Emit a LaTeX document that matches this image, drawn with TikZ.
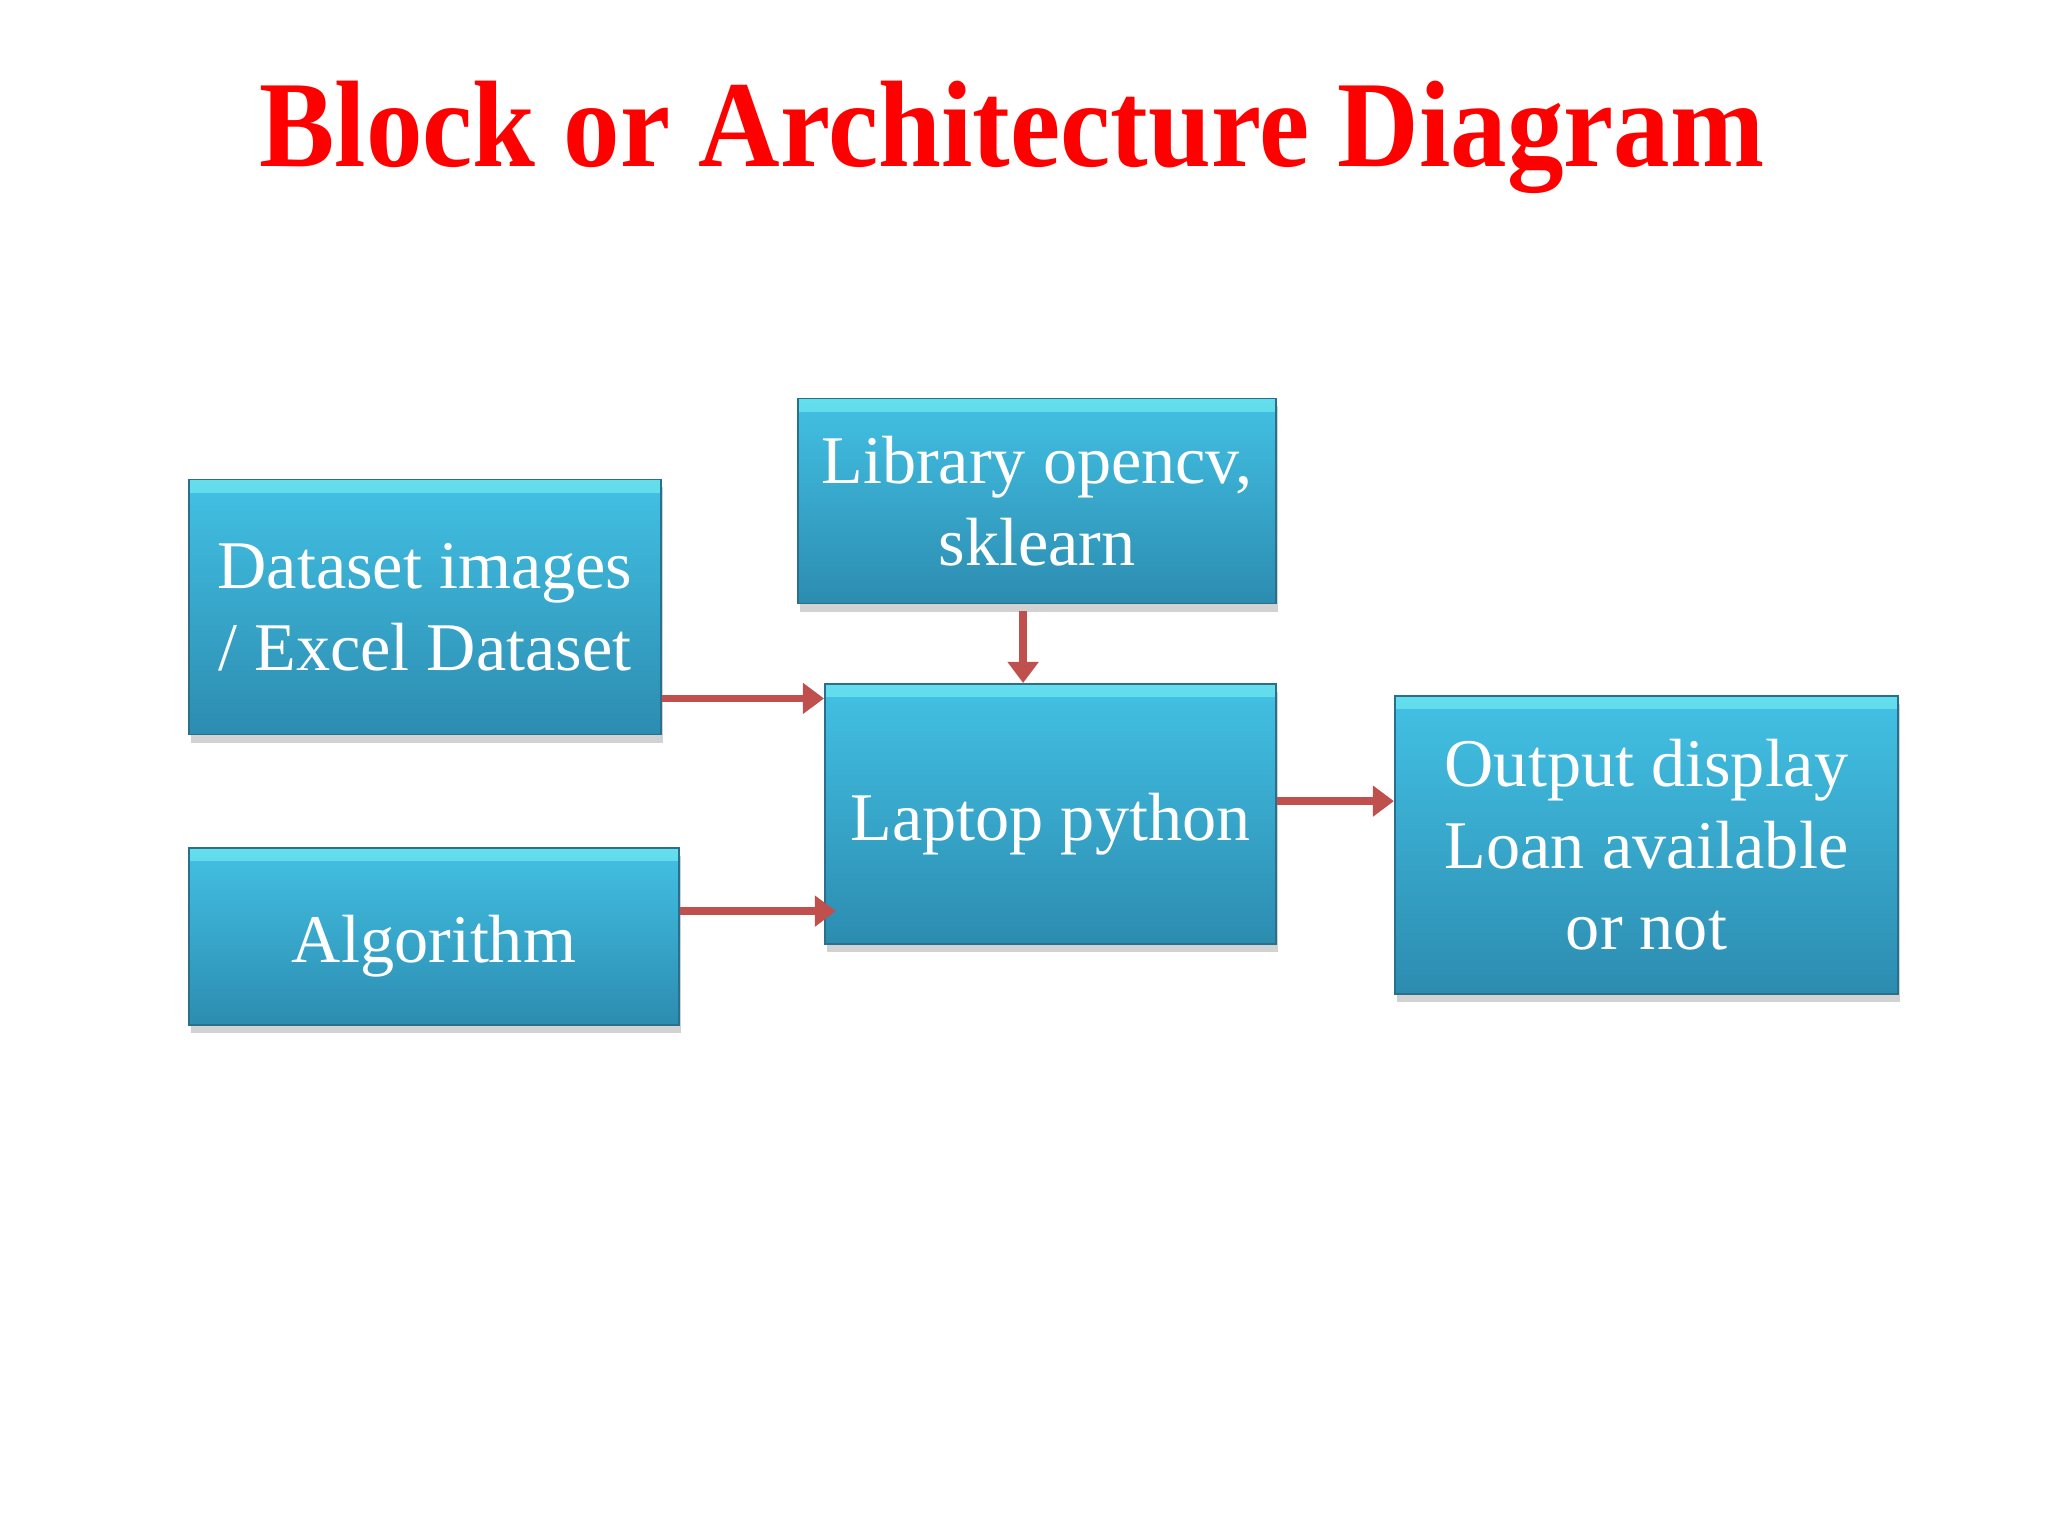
\documentclass[tikz,border=0pt]{standalone}
\usepackage{fontspec}
\setmainfont{Liberation Serif}
\usetikzlibrary{arrows.meta,shadows}
\definecolor{boxtop}{RGB}{66,193,228}
\definecolor{boxbot}{RGB}{44,140,176}
\definecolor{boxedge}{RGB}{40,112,140}
\definecolor{bevel}{RGB}{100,222,236}
\definecolor{arrowred}{RGB}{192,80,77}
\definecolor{titlered}{RGB}{255,0,0}

\tikzset{
  block/.style={rectangle, draw=boxedge, line width=0.5pt,
    top color=boxtop, bottom color=boxbot, text=white,
    font=\fontsize{19.4}{23.2}\selectfont, align=center, inner sep=0pt,
    path picture={\fill[top color=bevel, bottom color=boxtop]
      (path picture bounding box.north west) rectangle ([yshift=-0.13cm]path picture bounding box.north east);},
    drop shadow={shadow xshift=0.2mm, shadow yshift=-0.8mm, opacity=0.25, fill=black!70}},
  oneline/.style={text height=19pt},
  link/.style={draw=arrowred, line width=2.2pt, -{Triangle[length=6pt,width=8.5pt]}},
}

\begin{document}
\begin{tikzpicture}[x=0.01cm, y=-0.01cm]
	\useasboundingbox (0,0) rectangle (2048,1536);
	\fill[white] (0,0) rectangle (2048,1536);
	
	% Title
	\node[anchor=base, text=titlered, font=\fontsize{35}{40}\selectfont\bfseries]
		(title) at (1012,166) {\scalebox{0.918}[1]{Block or Architecture Diagram}};
	
	% Blocks
	\node[block, minimum width=4.72cm, minimum height=2.55cm] (dataset) at (425,607)
		{Dataset images\\/ Excel Dataset};
	\node[block, minimum width=4.78cm, minimum height=2.05cm] (library) at (1037,501)
		{Library opencv,\\sklearn};
	\node[block, oneline, minimum width=4.51cm, minimum height=2.60cm] (laptop) at (1050.5,814)
		{Laptop python};
	\node[block, oneline, minimum width=4.90cm, minimum height=1.77cm] (algorithm) at (434,936.5)
		{Algorithm};
	\node[block, minimum width=5.03cm, minimum height=2.98cm] (output) at (1646.5,845)
		{Output display\\Loan available\\or not};
	
	% Arrows
	\coordinate (d1) at ([yshift=0.37cm]dataset.south east);
	\draw[link] (d1) -- (d1 -| laptop.west);
	\coordinate (a1) at ([yshift=-0.64cm]algorithm.north east);
	\draw[link] (a1) -- ([xshift=0.12cm]a1 -| laptop.west);
	\coordinate (l1) at ([xshift=2.26cm, yshift=-0.07cm]library.south west);
	\draw[link] (l1) -- (l1 |- laptop.north);
	\coordinate (p1) at ([yshift=-1.18cm]laptop.north east);
	\draw[link] (p1) -- (p1 -| output.west);
\end{tikzpicture}
\end{document}
